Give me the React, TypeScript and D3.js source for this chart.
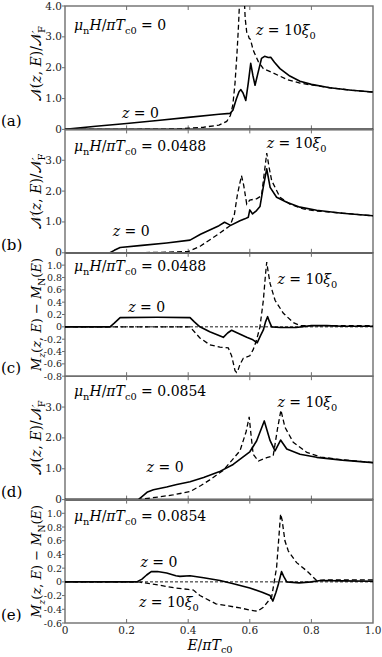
import React from "react";
import * as d3 from "d3";

type Pt = [number, number];

// ---- Data (E/πTc0, value) ----
const A_Z0: Pt[] = [[0,0],[0.1,0.1],[0.2,0.19],[0.3,0.29],[0.4,0.39],[0.5,0.49],[0.536,0.52],[0.545,0.62],[0.556,0.98],[0.565,1.22],[0.571,1.29],[0.578,1.18],[0.587,0.94],[0.595,1.5],[0.603,2.14],[0.61,1.75],[0.617,1.43],[0.627,1.85],[0.638,2.3],[0.648,2.37],[0.66,2.33],[0.668,2.34],[0.68,2.18],[0.698,1.97],[0.73,1.73],[0.763,1.56],[0.8,1.46],[0.86,1.35],[0.93,1.27],[1.0,1.21]];
const A_Z10: Pt[] = [[0,0],[0.3,0.005],[0.37,0.02],[0.45,0.07],[0.5,0.14],[0.525,0.26],[0.537,0.45],[0.545,0.8],[0.552,1.5],[0.558,2.4],[0.563,3.3],[0.567,4.2],[0.572,5.0],[0.577,5.2],[0.581,4.5],[0.585,3.6],[0.59,3.15],[0.595,3.05],[0.598,2.95],[0.602,2.92],[0.611,2.57],[0.628,2.19],[0.644,1.97],[0.676,1.83],[0.72,1.62],[0.763,1.5],[0.8,1.44],[0.86,1.35],[0.93,1.27],[1.0,1.21]];

const B_Z0: Pt[] = [[0,0],[0.146,0],[0.16,0.08],[0.179,0.17],[0.25,0.24],[0.33,0.32],[0.406,0.41],[0.44,0.6],[0.5,0.88],[0.518,0.99],[0.53,0.93],[0.538,0.89],[0.568,1.04],[0.584,1.1],[0.595,1.15],[0.6,1.39],[0.609,1.26],[0.622,1.37],[0.633,1.5],[0.645,2.2],[0.655,2.72],[0.666,2.12],[0.687,1.8],[0.72,1.64],[0.763,1.48],[0.817,1.38],[0.9,1.28],[1.0,1.2]];
const B_Z10: Pt[] = [[0,0],[0.3,0.01],[0.4,0.04],[0.44,0.22],[0.5,0.62],[0.536,0.88],[0.55,1.25],[0.56,1.9],[0.573,2.5],[0.58,2.2],[0.59,1.58],[0.6,1.71],[0.622,1.75],[0.638,1.85],[0.646,2.5],[0.655,3.23],[0.663,2.75],[0.671,2.34],[0.698,1.8],[0.73,1.58],[0.774,1.42],[0.81,1.36],[0.86,1.32],[0.93,1.26],[1.0,1.2]];

const C_Z0: Pt[] = [[0,0],[0.146,0],[0.16,0.06],[0.179,0.15],[0.3,0.155],[0.406,0.15],[0.42,0.08],[0.438,0.0],[0.47,-0.08],[0.5,-0.14],[0.514,-0.17],[0.528,-0.1],[0.541,-0.055],[0.56,-0.1],[0.59,-0.17],[0.61,-0.21],[0.624,-0.26],[0.634,-0.15],[0.644,-0.05],[0.651,0.08],[0.658,0.165],[0.664,0.08],[0.671,0.0],[0.7,-0.01],[0.75,-0.01],[0.8,0.02],[0.85,0.02],[0.9,0.01],[1.0,0.01]];
const C_Z10: Pt[] = [[0,0],[0.406,0],[0.42,-0.08],[0.438,-0.18],[0.47,-0.29],[0.503,-0.33],[0.53,-0.34],[0.541,-0.47],[0.552,-0.71],[0.557,-0.74],[0.562,-0.7],[0.568,-0.61],[0.579,-0.51],[0.6,-0.47],[0.611,-0.37],[0.622,-0.21],[0.633,0.0],[0.644,0.43],[0.651,0.85],[0.655,1.05],[0.66,0.88],[0.666,0.7],[0.682,0.43],[0.709,0.22],[0.741,0.07],[0.763,0.02],[0.8,0.02],[0.9,0.02],[1.0,0.02]];

const D_Z0: Pt[] = [[0,0],[0.238,0],[0.25,0.1],[0.268,0.25],[0.287,0.32],[0.33,0.41],[0.363,0.49],[0.406,0.58],[0.45,0.72],[0.5,0.9],[0.546,1.14],[0.6,1.55],[0.622,1.9],[0.647,2.55],[0.666,1.91],[0.682,1.58],[0.7,1.93],[0.72,1.64],[0.763,1.47],[0.817,1.37],[0.9,1.28],[1.0,1.2]];
const D_Z10: Pt[] = [[0,0],[0.238,0],[0.3,0.08],[0.35,0.15],[0.406,0.26],[0.44,0.45],[0.47,0.64],[0.514,0.95],[0.568,1.58],[0.588,2.2],[0.598,2.68],[0.605,2.0],[0.611,1.47],[0.628,1.25],[0.655,1.36],[0.676,1.42],[0.69,2.3],[0.701,2.9],[0.714,2.35],[0.741,1.86],[0.785,1.53],[0.83,1.38],[0.9,1.29],[1.0,1.2]];

const E_Z0: Pt[] = [[0,0],[0.233,0],[0.25,0.04],[0.265,0.1],[0.28,0.15],[0.3,0.15],[0.33,0.13],[0.36,0.09],[0.373,0.08],[0.406,0.09],[0.45,0.06],[0.503,0.02],[0.55,-0.03],[0.6,-0.09],[0.64,-0.15],[0.666,-0.2],[0.675,-0.28],[0.685,-0.15],[0.693,-0.03],[0.703,0.15],[0.71,0.08],[0.72,0.0],[0.76,-0.015],[0.8,0.0],[0.83,0.02],[0.9,0.015],[1.0,0.01]];
const E_Z10: Pt[] = [[0,0],[0.233,0],[0.244,-0.005],[0.308,-0.05],[0.36,-0.09],[0.4,-0.11],[0.417,-0.12],[0.438,-0.2],[0.49,-0.32],[0.568,-0.38],[0.6,-0.41],[0.625,-0.43],[0.644,-0.37],[0.671,-0.22],[0.687,0.21],[0.7,0.99],[0.705,0.9],[0.714,0.6],[0.725,0.45],[0.752,0.28],[0.785,0.16],[0.817,0.02],[0.85,0.03],[0.9,0.03],[1.0,0.03]];

const N_TICKS = [0, 1, 2, 3, 4];
const M_TICKS_C = [-0.8, -0.6, -0.4, -0.2, 0, 0.2, 0.4, 0.6, 0.8, 1.0];
const M_TICKS_E = [-0.6, -0.4, -0.2, 0, 0.2, 0.4, 0.6, 0.8, 1.0];
const X_TICKS = [0, 0.2, 0.4, 0.6, 0.8, 1.0];
const FIELDS = ["0", "0.0488", "0.0488", "0.0854", "0.0854"];
const PANEL_TAGS = ["(a)", "(b)", "(c)", "(d)", "(e)"];

const W = 382, H = 657;
const X0 = 65, X1 = 373;
const TOP = 6, PH = 123.4;
const FONT = "'DejaVu Serif', serif";
const FRAME = "#6e6e6e";
const FIELD_DY = [24, 22, 18, 20, 21];

type Seg = { t: string; it?: boolean; sub?: boolean };

function MathText(props: { x: number; y: number; segs: Seg[]; size: number; anchor?: string; transform?: string; subShift?: number }) {
  const { x, y, segs, size, anchor, transform } = props;
  const shift = props.subShift ?? 0.28;
  let cur = 0;
  return (
    <text x={x} y={y} style={{ fontFamily: FONT }} fontSize={size} textAnchor={anchor || "start"} transform={transform} fill="#000">
      {segs.map((s, i) => {
        const target = s.sub ? size * shift : 0;
        const dy = target - cur;
        cur = target;
        return (
          <tspan key={i} dy={dy} fontStyle={s.it ? "italic" : "normal"} fontSize={s.sub ? size * 0.7 : size}>
            {s.t}
          </tspan>
        );
      })}
    </text>
  );
}

const fieldSegs = (v: string): Seg[] => [
  { t: "μ", it: true }, { t: "n", sub: true }, { t: "H", it: true }, { t: "/" }, { t: "πT", it: true }, { t: "c0", sub: true }, { t: " = " + v },
];
const z10Segs: Seg[] = [{ t: "z", it: true }, { t: " = 10" }, { t: "ξ", it: true }, { t: "0", sub: true }];
const z0Segs: Seg[] = [{ t: "z", it: true }, { t: " = 0" }];
const nLabel: Seg[] = [{ t: "𝒩(" }, { t: "z", it: true }, { t: ", " }, { t: "E", it: true }, { t: ")/𝒩" }, { t: "F", sub: true }];
const mLabel: Seg[] = [{ t: "M", it: true }, { t: "z", it: true, sub: true }, { t: "(" }, { t: "z", it: true }, { t: ", " }, { t: "E", it: true }, { t: ") − " }, { t: "M", it: true }, { t: "N", sub: true }, { t: "(" }, { t: "E", it: true }, { t: ")" }];
const xTitle: Seg[] = [{ t: "E", it: true }, { t: "/" }, { t: "πT", it: true }, { t: "c0", sub: true }];

type Panel = {
  z0: Pt[]; z10: Pt[]; domain: [number, number]; ticks: number[]; kind: "N" | "M";
  z0Pos: [number, number]; z10Pos: [number, number];
};

const PANELS: Panel[] = [
  { z0: A_Z0, z10: A_Z10, domain: [0, 4], ticks: N_TICKS, kind: "N", z0Pos: [0.185, 0.38], z10Pos: [0.62, 3.05] },
  { z0: B_Z0, z10: B_Z10, domain: [0, 4], ticks: N_TICKS.slice(0, 4), kind: "N", z0Pos: [0.155, 0.55], z10Pos: [0.655, 3.4] },
  { z0: C_Z0, z10: C_Z10, domain: [-0.8, 1.2], ticks: M_TICKS_C, kind: "M", z0Pos: [0.205, 0.24], z10Pos: [0.69, 0.7] },
  { z0: D_Z0, z10: D_Z10, domain: [0, 4], ticks: N_TICKS.slice(0, 4), kind: "N", z0Pos: [0.265, 0.88], z10Pos: [0.69, 3.0] },
  { z0: E_Z0, z10: E_Z10, domain: [-0.6, 1.2], ticks: M_TICKS_E, kind: "M", z0Pos: [0.245, 0.22], z10Pos: [0.24, -0.37] },
];

const fmt = (v: number) => (v === 0 ? "0" : v.toFixed(1));

export default function App() {
  const x = d3.scaleLinear().domain([0, 1]).range([X0, X1]);
  return (
    <svg width={W} height={H} style={{ position: "absolute", left: 0, top: 0, background: "#fff", fontFamily: FONT }}>
      <defs>
        {PANELS.map((p, i) => (
          <clipPath key={i} id={"clip" + i}>
            <rect x={X0} y={TOP + i * PH} width={X1 - X0} height={PH} />
          </clipPath>
        ))}
      </defs>
      {PANELS.map((p, i) => {
        const top = TOP + i * PH;
        const bot = top + PH;
        const y = d3.scaleLinear().domain(p.domain).range([bot, top]);
        const line = d3.line<Pt>().x((d) => x(d[0])).y((d) => y(d[1]));
        const mid = (top + bot) / 2;
        return (
          <g key={i}>
            <rect x={X0} y={top} width={X1 - X0} height={PH} fill="none" stroke={FRAME} strokeWidth={1.4} />
            {X_TICKS.slice(1, 5).map((t) => (
              <g key={t}>
                <line x1={x(t)} x2={x(t)} y1={top} y2={top + 4} stroke={FRAME} strokeWidth={1} />
                <line x1={x(t)} x2={x(t)} y1={bot} y2={bot - 4} stroke={FRAME} strokeWidth={1} />
              </g>
            ))}
            {p.ticks.map((t) => (
              <g key={t}>
                <line x1={X0 - 3} x2={X0} y1={y(t)} y2={y(t)} stroke={FRAME} strokeWidth={1} />
                <text x={X0 - 3} y={y(t) + 3.5} style={{ fontFamily: FONT }} fontSize={p.kind === "N" ? 10.5 : 9.5} textAnchor="end" fill="#222">
                  {fmt(t)}
                </text>
              </g>
            ))}
            {p.kind === "M" ? (
              <line x1={X0} x2={X1} y1={y(0)} y2={y(0)} stroke="#000" strokeWidth={0.9} strokeDasharray="3,2" />
            ) : null}
            <g clipPath={`url(#clip${i})`}>
              <path d={line(p.z10) || ""} fill="none" stroke="#000" strokeWidth={1.3} strokeDasharray="5,3" />
              <path d={line(p.z0) || ""} fill="none" stroke="#000" strokeWidth={1.6} strokeLinejoin="round" />
            </g>
            {p.kind === "N" ? (
              <line x1={X0} x2={X1} y1={bot} y2={bot} stroke="#000" strokeWidth={1.6} />
            ) : null}
            <MathText x={X0 + 9} y={top + FIELD_DY[i]} segs={fieldSegs(FIELDS[i])} size={14} />
            <MathText x={x(p.z10Pos[0])} y={y(p.z10Pos[1])} segs={z10Segs} size={14} />
            <MathText x={x(p.z0Pos[0])} y={y(p.z0Pos[1])} segs={z0Segs} size={14} />
            <text x={1} y={bot - 3} style={{ fontFamily: FONT }} fontSize={15} fill="#000">{PANEL_TAGS[i]}</text>
            <MathText
              x={0}
              y={0}
              segs={p.kind === "N" ? nLabel : mLabel}
              size={p.kind === "N" ? 14 : 13}
              anchor="middle"
              transform={`translate(41,${i === 0 ? mid - 4 : mid}) rotate(-90)`}
            />
          </g>
        );
      })}
      {X_TICKS.map((t) => (
        <text key={t} x={x(t)} y={TOP + 5 * PH + 10.5} style={{ fontFamily: FONT }} fontSize={10.5} textAnchor="middle" fill="#222">
          {fmt(t)}
        </text>
      ))}
      <MathText x={210} y={650} segs={xTitle} size={14} anchor="middle" subShift={0.2} />
    </svg>
  );
}
